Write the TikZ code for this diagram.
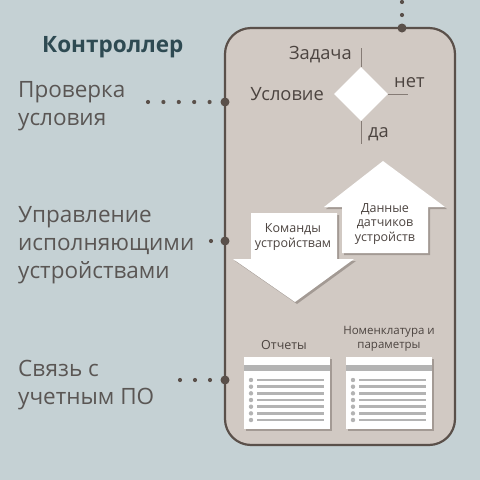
\documentclass[tikz,border=0pt]{standalone}
\usepackage{fontspec}
\setmainfont{Open Sans}
\usetikzlibrary{shapes.geometric}
\definecolor{bg}{HTML}{C5D1D4}
\definecolor{boxfill}{HTML}{D1C9C3}
\definecolor{boxline}{HTML}{5A504A}
\definecolor{dotc}{HTML}{5A504A}
\definecolor{labelc}{HTML}{5A5654}
\definecolor{titlec}{HTML}{2E4A52}
\definecolor{innerc}{HTML}{4C4440}
\definecolor{docgray}{HTML}{B3B3B3}
\definecolor{shadowc}{HTML}{7E756F}
\definecolor{linec}{HTML}{857B75}
\begin{document}
\begin{tikzpicture}[x=1pt,y=-1pt,
  bigdot/.style={circle,fill=dotc,inner sep=0pt,minimum size=9pt},
  dotline/.style={draw=dotc,line width=4.2pt,line cap=round,dash pattern=on 0pt off #1},
  sidelabel/.style={text=labelc,font=\fontsize{22.5}{28}\selectfont,align=left,anchor=base west,inner sep=0pt},
  innerlabel/.style={text=innerc,font=\fontsize{18.3}{21}\selectfont,inner sep=0pt},
  arrowlabel/.style={text=innerc,font=\fontsize{12.5}{14.5}\selectfont,align=center,inner sep=0pt},
  doclabel/.style={text=innerc,font=\fontsize{12.5}{14}\selectfont,align=center,inner sep=0pt},
  flowline/.style={draw=linec,line width=1pt},
  whiteshape/.style={fill=white},
  shadowshape/.style={fill=shadowc,opacity=0.55},
  docrow/.style={draw=docgray,line width=2.6pt},
]
\useasboundingbox (0,0) rectangle (480,480);
\fill[bg] (0,0) rectangle (480,480);

% controller box
\node[draw=boxline,fill=boxfill,line width=2.2pt,rounded corners=26pt,
      minimum width=230pt,minimum height=417pt,inner sep=0pt] (ctrl) at (340,236.5) {};

% title
\node[text=titlec,font=\fontsize{22.5}{25}\selectfont\bfseries,anchor=base west,inner sep=0pt] (title) at (42,52) {Контроллер};

% side labels (anchor = baseline of last line)
\node[sidelabel] (lab1) at (18,125) {Проверка\\условия};
\node[sidelabel] (lab2) at (18,278) {Управление\\исполняющими\\устройствами};
\node[sidelabel] (lab3) at (18,404) {Связь с\\учетным ПО};

% dot connectors
\coordinate (d1s) at (148,102);
\coordinate (d2s) at (211,241);
\coordinate (d3s) at (180,380);
\coordinate (d0s) at (402,1);
\node[bigdot] (d1) at (225,102) {};
\node[bigdot] (d2) at (225,241) {};
\node[bigdot] (d3) at (225,380) {};
\node[bigdot] (d0) at (402,28) {};
\draw[dotline=15.4pt] (d1.center) -- (d1s);
\draw[dotline=14pt] (d2.center) -- (d2s);
\draw[dotline=15pt] (d3.center) -- (d3s);
\draw[dotline=13pt] (d0.center) -- (d0s);

% decision
\node[diamond,aspect=1,fill=white,inner sep=0pt,minimum width=54pt,minimum height=54pt] (cond) at (361,94) {};
\coordinate (ctop) at (361,48);
\coordinate (cbot) at (361,144);
\coordinate (cright) at (408,94);
\draw[flowline] (cond.north) -- (ctop);
\draw[flowline] (cond.south) -- (cbot);
\draw[flowline] (cond.east) -- (cright);
\node[innerlabel,anchor=base east] (task) at (352,59) {Задача};
\node[innerlabel,anchor=base west] (no) at (394,87) {нет};
\node[innerlabel,anchor=base east] (condl) at (324,100) {Условие};
\node[innerlabel,anchor=base west] (yes) at (368,137) {да};

% up arrow (sensor data)
\fill[shadowshape] ([shift={(2,2)}]383,161) -- ([shift={(2,2)}]445,207) -- ([shift={(2,2)}]428,207) -- ([shift={(2,2)}]428,253) -- ([shift={(2,2)}]342,253) -- ([shift={(2,2)}]342,207) -- ([shift={(2,2)}]324,207) -- cycle;
\fill[whiteshape] (383,161) -- (445,207) -- (428,207) -- (428,253) -- (342,253) -- (342,207) -- (324,207) -- cycle;
% down arrow (commands)
\fill[shadowshape] ([shift={(2,2)}]251,213) -- ([shift={(2,2)}]337,213) -- ([shift={(2,2)}]337,259) -- ([shift={(2,2)}]354,259) -- ([shift={(2,2)}]295,302) -- ([shift={(2,2)}]233,259) -- ([shift={(2,2)}]251,259) -- cycle;
\fill[whiteshape] (251,213) -- (337,213) -- (337,259) -- (354,259) -- (295,302) -- (233,259) -- (251,259) -- cycle;
\node[arrowlabel] (cmd) at (293,237) {Команды\\устройствам};
\node[arrowlabel] (sens) at (385,224) {Данные\\датчиков\\устройств};

% documents
\foreach \xl in {244,346}{
  \fill[shadowshape] (\xl+2,359) rectangle (\xl+88,431);
  \fill[white] (\xl,357) rectangle (\xl+86,429);
  \fill[docgray] (\xl,365) rectangle (\xl+86,371);
  \foreach \i in {0,...,6}{
    \fill[docgray] (\xl+7,380+6.67*\i) circle (2.2pt);
    \draw[docrow] (\xl+13,380+6.67*\i) -- (\xl+80,380+6.67*\i);
  }
}
\node[doclabel] (replab) at (284,345) {Отчеты};
\node[doclabel,font=\fontsize{11.5}{14.5}\selectfont] (nomlab) at (389,339) {Номенклатура и\\параметры};
\end{tikzpicture}
\end{document}
